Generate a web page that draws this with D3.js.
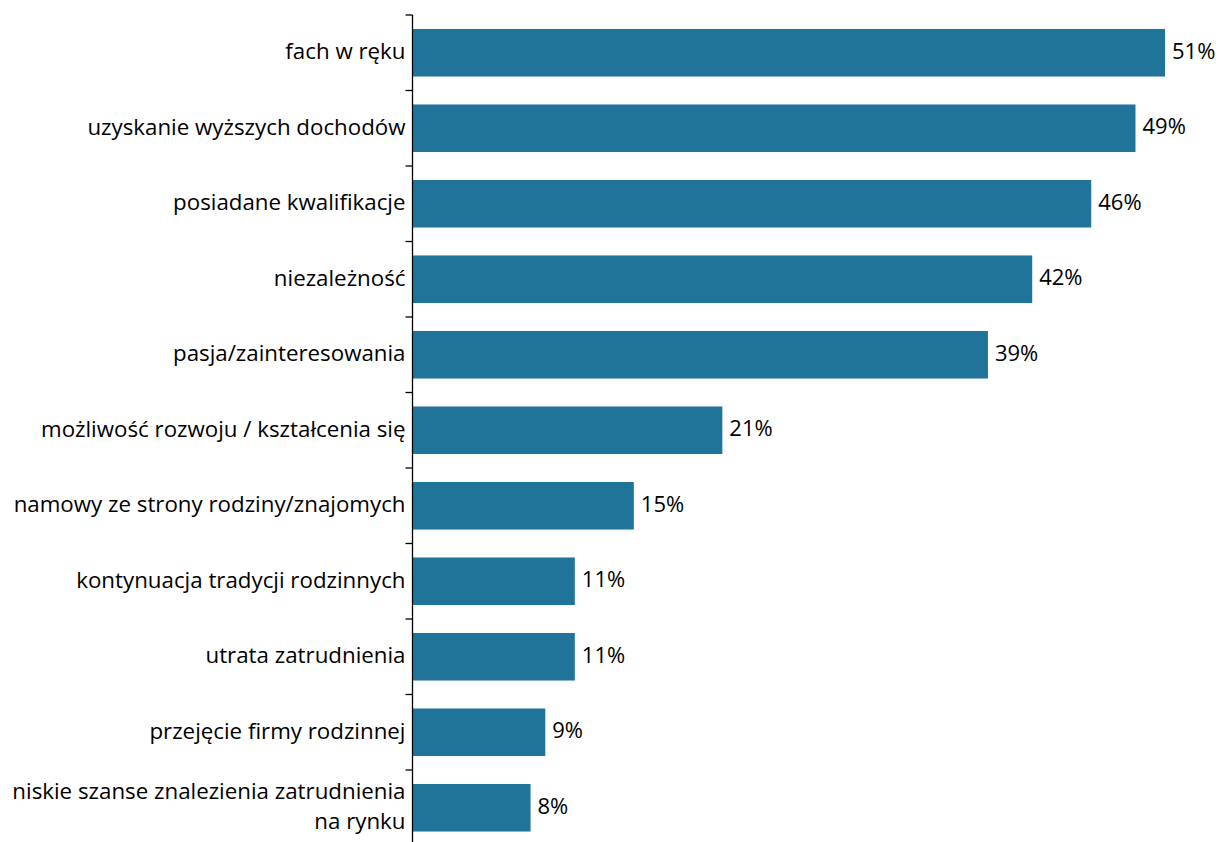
<!DOCTYPE html>
<html>
<head>
<meta charset="utf-8">
<script src="https://cdn.jsdelivr.net/npm/d3@7"></script>
<style>
  html, body { margin: 0; padding: 0; background: #fff; }
  svg text { font-family: "Open Sans", sans-serif; fill: #000; }
</style>
</head>
<body>
<svg id="chart" width="1221" height="842"></svg>
<script>
// Reasons for choosing the profession, share of answers (%)
const categories = [
  ["fach w ręku"],
  ["uzyskanie wyższych dochodów"],
  ["posiadane kwalifikacje"],
  ["niezależność"],
  ["pasja/zainteresowania"],
  ["możliwość rozwoju / kształcenia się"],
  ["namowy ze strony rodziny/znajomych"],
  ["kontynuacja tradycji rodzinnych"],
  ["utrata zatrudnienia"],
  ["przejęcie firmy rodzinnej"],
  ["niskie szanse znalezienia zatrudnienia", "na rynku"]
];
const values = [51, 49, 46, 42, 39, 21, 15, 11, 11, 9, 8];
const valueLabels = ["51%", "49%", "46%", "42%", "39%", "21%", "15%", "11%", "11%", "9%", "8%"];

const svg = d3.select("#chart");
const margin = { left: 412.5, top: 15, bottom: 845.5 };
const ids = d3.range(categories.length);
const labelSize = 22.3;
const valueSize = 22;

const x = d3.scaleLinear().domain([0, 51]).range([margin.left, 1165]);
const y = d3.scaleBand().domain(ids).range([margin.top, margin.bottom]).paddingInner(0.37).paddingOuter(0.185);

const step = y.step();
const barColor = "#20749a";

// bars
svg.append("g").selectAll("rect")
  .data(ids)
  .join("rect")
  .attr("x", x(0))
  .attr("y", i => y(i))
  .attr("width", i => x(values[i]) - x(0))
  .attr("height", y.bandwidth())
  .attr("fill", barColor);

// value labels
svg.append("g").selectAll("text")
  .data(ids)
  .join("text")
  .attr("x", i => x(values[i]) + 7)
  .attr("y", i => y(i) + y.bandwidth() / 2)
  .attr("dy", "0.27em")
  .attr("font-size", valueSize)
  .text(i => valueLabels[i]);

// category axis: vertical line with ticks between categories
const axis = svg.append("g");
axis.append("line")
  .attr("x1", margin.left).attr("x2", margin.left)
  .attr("y1", margin.top).attr("y2", margin.bottom)
  .attr("stroke", "#000").attr("stroke-width", 1.3);
axis.selectAll("line.tick")
  .data(d3.range(categories.length + 1))
  .join("line")
  .attr("class", "tick")
  .attr("x1", margin.left - 7).attr("x2", margin.left)
  .attr("y1", k => margin.top + k * step).attr("y2", k => margin.top + k * step)
  .attr("stroke", "#000").attr("stroke-width", 1.3);

// category labels
const labels = axis.selectAll("text")
  .data(ids)
  .join("text")
  .attr("text-anchor", "end")
  .attr("font-size", labelSize)
  .attr("transform", i => `translate(${margin.left - 7},${y(i) + y.bandwidth() / 2})`);
labels.each(function(i) {
  const lines = categories[i];
  const t = d3.select(this);
  lines.forEach((ln, j) => {
    t.append("tspan")
      .attr("x", 0)
      .attr("y", (j - (lines.length - 1) / 2) * 30)
      .attr("dy", "0.3em")
      .text(ln);
  });
});
</script>
</body>
</html>
